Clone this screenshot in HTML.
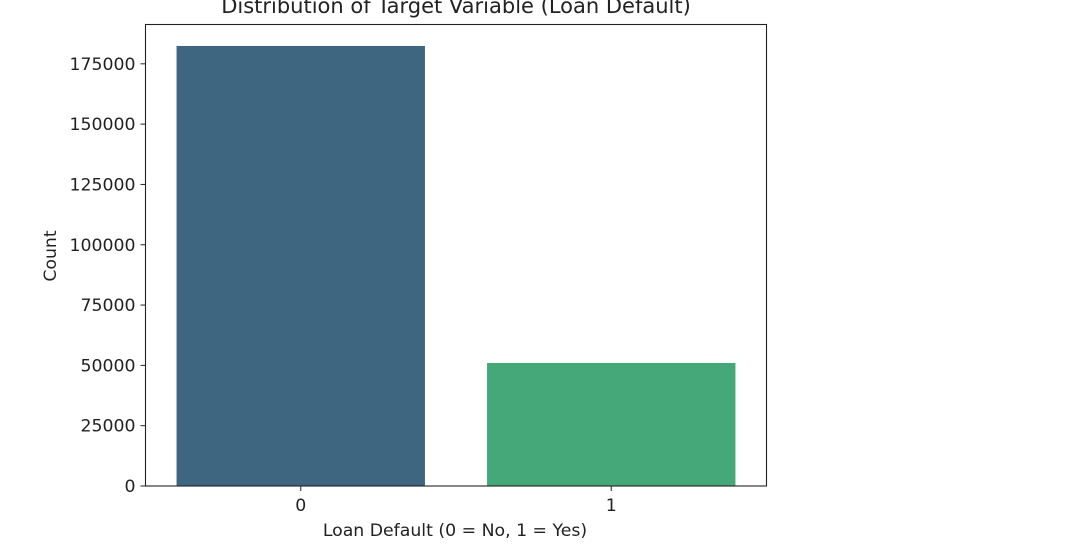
<!DOCTYPE html>
<html><head><meta charset="utf-8"><style>
body{margin:0;background:#fff;width:1080px;height:546px;overflow:hidden}
text{font-family:"DejaVu Sans","Liberation Sans",sans-serif;fill:#222}
</style></head><body>
<svg id="chart" width="1080" height="546">
<text x="456" y="13" text-anchor="middle" font-size="21">Distribution of Target Variable (Loan Default)</text>
<g id="bars"></g><g id="yaxis"></g><g id="xaxis"></g>
<rect x="145.5" y="24.5" width="621" height="461.5" fill="none" stroke="#222" stroke-width="1.1"/>
<text x="455" y="536" text-anchor="middle" font-size="17.3">Loan Default (0 = No, 1 = Yes)</text>
<text transform="translate(56,256) rotate(-90)" text-anchor="middle" font-size="17.3">Count</text>
</svg>
<script>
const categories=["0","1"];
const counts=[182400,51000];
const barColors=["#3e6680","#45a878"];
const yTicks=[0,25000,50000,75000,100000,125000,150000,175000];
const NS="http://www.w3.org/2000/svg";
const L=145.5,R=766.5,B=486,T=24.5;
const yMax=191300;
function y(v){return B-v/yMax*(B-T);}
function x(i){return L+(i+0.5)*(R-L)/categories.length;}
const bw=0.8*(R-L)/categories.length;
const bars=document.getElementById('bars');
categories.forEach((c,i)=>{
 const r=document.createElementNS(NS,'rect');
 r.setAttribute('x',x(i)-bw/2);r.setAttribute('y',y(counts[i]));
 r.setAttribute('width',bw);r.setAttribute('height',B-y(counts[i]));
 r.setAttribute('fill',barColors[i]);
 
 
 bars.appendChild(r);
 const t=document.createElementNS(NS,'line');
 t.setAttribute('x1',x(i));t.setAttribute('x2',x(i));t.setAttribute('y1',B);t.setAttribute('y2',B+5);t.setAttribute('stroke','#222');
 
 
 document.getElementById('xaxis').appendChild(t);
 const l=document.createElementNS(NS,'text');
 l.setAttribute('x',x(i));l.setAttribute('y',B+25);l.setAttribute('text-anchor','middle');l.setAttribute('font-size','17.3');l.textContent=c;
 
 
 document.getElementById('xaxis').appendChild(l);
});
yTicks.forEach(v=>{
 const t=document.createElementNS(NS,'line');
 t.setAttribute('x1',L-5);t.setAttribute('x2',L);t.setAttribute('y1',y(v));t.setAttribute('y2',y(v));t.setAttribute('stroke','#222');
 
 
 document.getElementById('yaxis').appendChild(t);
 const l=document.createElementNS(NS,'text');
 l.setAttribute('x',L-10);l.setAttribute('y',y(v)+6);l.setAttribute('text-anchor','end');l.setAttribute('font-size','17.3');l.textContent=v;
 
 
 document.getElementById('yaxis').appendChild(l);
});
</script>
</body></html>
